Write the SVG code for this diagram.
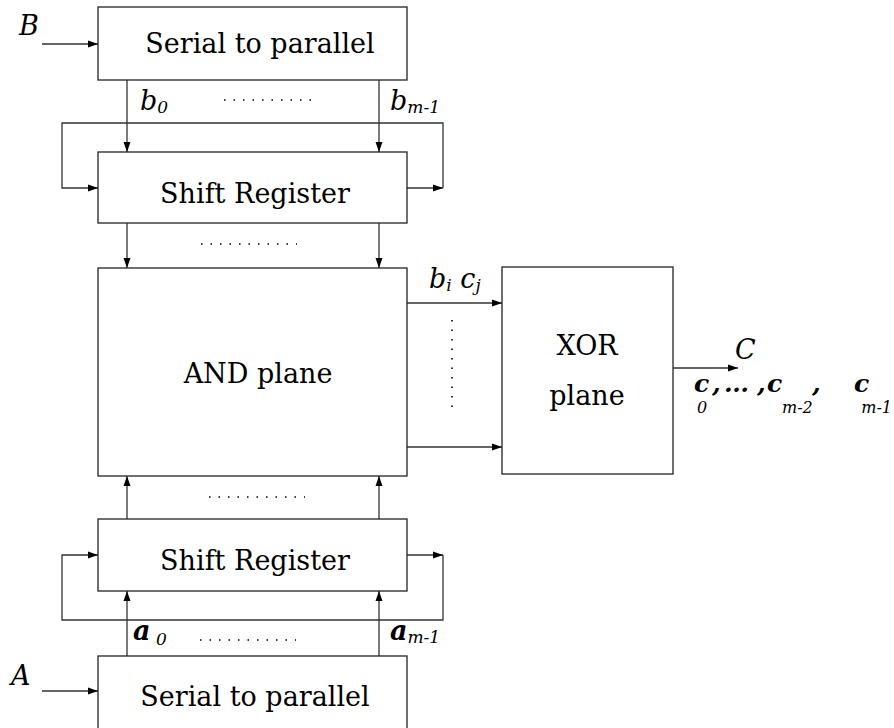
<svg xmlns="http://www.w3.org/2000/svg" width="894" height="728" viewBox="0 0 894 728">
<defs>
<marker id="ah" markerWidth="10" markerHeight="8" refX="10" refY="4" orient="auto" markerUnits="userSpaceOnUse">
<path d="M0,0.5 L10,4 L0,7.5 Z" fill="#000"/>
</marker>
<style>
.box{fill:#fff;stroke:#222;stroke-width:1.3}
.ln{fill:none;stroke:#333;stroke-width:1.3}
.t{font-family:"DejaVu Serif",serif;font-size:27px;fill:#000;text-anchor:middle}
.v{font-family:"DejaVu Serif",serif;font-style:italic;font-size:27px;fill:#000}
.vb{font-family:"DejaVu Serif",serif;font-style:italic;font-weight:bold;font-size:27px;fill:#000}
.cb{font-family:"DejaVu Serif",serif;font-style:italic;font-weight:bold;font-size:25px;fill:#000}
.s{font-family:"DejaVu Serif",serif;font-style:italic;font-size:17px;font-weight:normal;fill:#000}
.cs{font-family:"DejaVu Serif",serif;font-style:italic;font-size:16px;fill:#000}
.dots{fill:none;stroke:#000;stroke-width:1.6;stroke-dasharray:1.5 8}
</style>
</defs>
<rect width="894" height="728" fill="#fff"/>
<g id="connectors">
<line class="ln" x1="42" y1="44" x2="98" y2="44" marker-end="url(#ah)"/>
<line class="ln" x1="127" y1="80" x2="127" y2="152" marker-end="url(#ah)"/>
<line class="ln" x1="379" y1="80" x2="379" y2="152" marker-end="url(#ah)"/>
<polyline class="ln" points="443,188 443,123 62,123 62,188 98,188" marker-end="url(#ah)"/>
<line class="ln" x1="407" y1="188" x2="443" y2="188" marker-end="url(#ah)"/>
<line class="ln" x1="127" y1="223" x2="127" y2="268" marker-end="url(#ah)"/>
<line class="ln" x1="379" y1="223" x2="379" y2="268" marker-end="url(#ah)"/>
<line class="ln" x1="407" y1="303" x2="502" y2="303" marker-end="url(#ah)"/>
<line class="ln" x1="407" y1="447" x2="502" y2="447" marker-end="url(#ah)"/>
<line class="ln" x1="673" y1="368" x2="738" y2="368" marker-end="url(#ah)"/>
<line class="ln" x1="127" y1="519" x2="127" y2="476" marker-end="url(#ah)"/>
<line class="ln" x1="379" y1="519" x2="379" y2="476" marker-end="url(#ah)"/>
<polyline class="ln" points="443,555 443,620 62,620 62,555 98,555" marker-end="url(#ah)"/>
<line class="ln" x1="407" y1="555" x2="443" y2="555" marker-end="url(#ah)"/>
<line class="ln" x1="127" y1="656" x2="127" y2="591" marker-end="url(#ah)"/>
<line class="ln" x1="379" y1="656" x2="379" y2="591" marker-end="url(#ah)"/>
<line class="ln" x1="42" y1="691" x2="98" y2="691" marker-end="url(#ah)"/>
<line class="dots" x1="224" y1="100" x2="312" y2="100"/>
<line class="dots" x1="201" y1="244" x2="297" y2="244"/>
<line class="dots" x1="209" y1="497" x2="305" y2="497"/>
<line class="dots" x1="200" y1="640" x2="296" y2="640"/>
<line class="dots" x1="452" y1="320" x2="452" y2="414"/>
</g>
<g id="serial_b">
<rect class="box" x="98" y="7" width="309" height="73"/>
<text class="t" x="260" y="53">Serial to parallel</text>
</g>
<g id="shift_b">
<rect class="box" x="98" y="152" width="309" height="71"/>
<text class="t" x="255" y="203">Shift Register</text>
</g>
<g id="and_plane">
<rect class="box" x="98" y="268" width="309" height="208"/>
<text class="t" x="258" y="383">AND plane</text>
</g>
<g id="xor_plane">
<rect class="box" x="502" y="267" width="171" height="207"/>
<text class="t" x="587" y="355">XOR</text>
<text class="t" x="587" y="405">plane</text>
</g>
<g id="shift_a">
<rect class="box" x="98" y="519" width="309" height="72"/>
<text class="t" x="255" y="570">Shift Register</text>
</g>
<g id="serial_a">
<rect class="box" x="98" y="656" width="309" height="80"/>
<text class="t" x="255" y="706">Serial to parallel</text>
</g>
<g id="labels">
<text class="v" x="19" y="35">B</text>
<text class="v" x="11" y="685">A</text>
<text class="v" x="735" y="359">C</text>
<text class="v" x="140" y="110">b<tspan class="s" dy="3">0</tspan></text>
<text class="v" x="390" y="110">b<tspan class="s" dy="3">m-1</tspan></text>
<text class="v" x="429" y="288">b<tspan class="s" dy="3">i</tspan><tspan dy="-3"> c</tspan><tspan class="s" dy="3">j</tspan></text>
<text class="vb" x="133" y="640">a</text>
<text class="s" x="156" y="645">0</text>
<text class="vb" x="390" y="640">a<tspan class="s" dy="3">m-1</tspan></text>
<text class="cb" x="694" y="392">c</text>
<text class="cs" x="697" y="413">0</text>
<text class="cb" x="712" y="392">,</text>
<text class="cb" x="724" y="392">…</text>
<text class="cb" x="757" y="392">,</text>
<text class="cb" x="767" y="392">c</text>
<text class="cs" x="782" y="413">m-2</text>
<text class="cb" x="812" y="392">,</text>
<text class="cb" x="854" y="392">c</text>
<text class="cs" x="892" y="413" text-anchor="end">m-1</text>
</g>
</svg>
